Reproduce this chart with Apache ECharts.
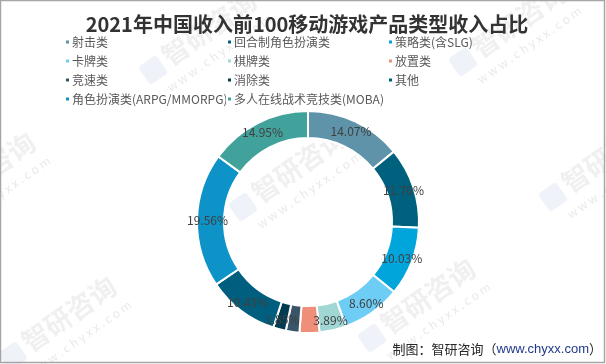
<!DOCTYPE html>
<html><head><meta charset="utf-8">
<script src="https://cdn.jsdelivr.net/npm/echarts@6/dist/echarts.min.js"></script>
<style>html,body{margin:0;padding:0;background:#fff}#c{width:606px;height:364px}</style>
</head><body><div id="c"></div>
<script>
const titleText = '2021年中国收入前100移动游戏产品类型收入占比';
const categories = ['射击类','回合制角色扮演类','策略类(含SLG)','卡牌类','棋牌类','放置类','竞速类','消除类','其他','角色扮演类(ARPG/MMORPG)','多人在线战术竞技类(MOBA)'];
const shares = [14.07, 11.76, 10.03, 8.60, 3.89, 2.89, 1.97, 1.85, 10.43, 19.56, 14.95];
const colors = ['#5E93A9','#00617F','#00A5DC','#6DCDF4','#A0D7D4','#EF8F79','#395567','#013B50','#005E7E','#0D93C7','#41A19B'];
const legendCols = [[0,3,6,9],[1,4,7,10],[2,5,8]];

const chart = echarts.init(document.getElementById('c'), null, {renderer:'canvas'});
const FONT = '"Noto Sans CJK SC", "Noto Sans", sans-serif';

const legends = legendCols.map((idx, i) => ({
  orient: 'vertical',
  left: [64, 226, 387][i],
  top: 35,
  padding: 0,
  itemWidth: 5, itemHeight: 5,
  itemGap: 5,
  icon: 'rect',
  selectedMode: false,
  textStyle: {fontFamily: FONT, fontSize: 12, color: '#595959', lineHeight: 14, padding: [0,0,0,-3]},
  data: idx.map(k => categories[k])
}));

function watermark(x, y) {
  return {
    type: 'group', x: x, y: y, rotation: 35 * Math.PI / 180, silent: true, z: -10,
    children: [
      {type: 'rect', shape: {x: -11, y: -11, width: 22, height: 22, r: 4}, style: {fill: 'rgba(190,205,228,0.25)'}},
      {type: 'text', style: {x: 16, y: -16, text: '智研咨询', font: 'bold 27px ' + FONT, fill: 'rgba(170,170,170,0.18)'}},
      {type: 'text', style: {x: 2, y: 18, text: 'w w w . c h y x x . c o m', font: '12px ' + FONT, fill: 'rgba(170,170,170,0.26)'}}
    ]
  };
}

chart.setOption({
  backgroundColor: '#ffffff',
  animation: false,
  color: colors,
  title: {
    text: titleText, left: 302, top: 9, textAlign: 'center',
    textStyle: {fontFamily: FONT, fontSize: 20, fontWeight: 'bold', color: '#333333'}
  },
  legend: legends,
  graphic: [
    {type: 'rect', shape: {x: 0.5, y: 0.5, width: 604, height: 362}, style: {fill: 'none', stroke: '#a6a6a6', lineWidth: 1.5}, silent: true, z: 100},
    watermark(153, 70), watermark(463, 62), watermark(243, 207), watermark(-68, 212), watermark(372, 338), watermark(13, 356), watermark(553, 197),
    {type: 'text', right: 4, top: 343, style: {
      text: '{a|制图：智研咨询（}{b|www.chyxx.com}{a|）}',
      rich: {a: {fontFamily: FONT, fontSize: 13, fill: '#262626'}, b: {fontFamily: 'Arial, "Liberation Sans", sans-serif', fontSize: 13, fill: '#1F3A8C'}}
    }, z: 100}
  ],
  series: [{
    type: 'pie',
    center: [308, 222],
    radius: [84, 111],
    startAngle: 90,
    clockwise: true,
    avoidLabelOverlap: false,
    itemStyle: {borderColor: '#ffffff', borderWidth: 2},
    label: {
      show: true, position: 'inside',
      fontFamily: FONT, fontSize: 12, color: '#404040',
      formatter: p => p.value.toFixed(2) + '%'
    },
    labelLine: {show: false},
    emphasis: {disabled: true},
    data: categories.map((c, i) => ({name: c, value: shares[i]}))
  }]
});
</script></body></html>
